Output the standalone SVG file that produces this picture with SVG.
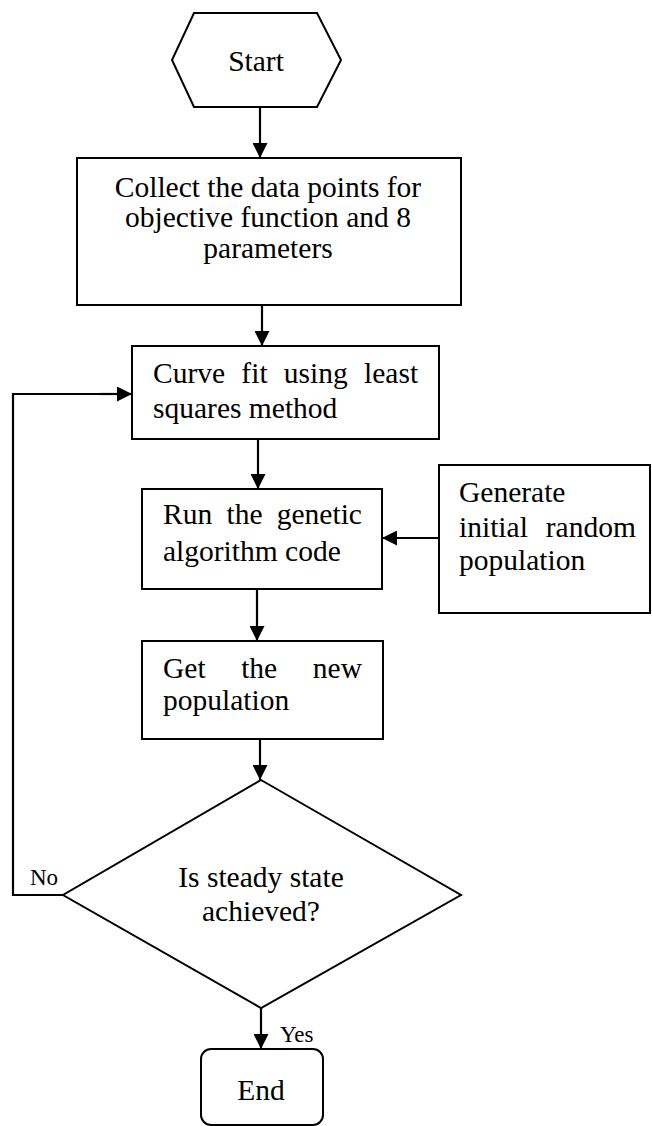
<svg xmlns="http://www.w3.org/2000/svg" width="652" height="1126" viewBox="0 0 652 1126">
  <defs>
    <marker id="ah" viewBox="0 0 15 15" refX="15" refY="7.5" markerWidth="15" markerHeight="15" markerUnits="userSpaceOnUse" orient="auto">
      <path d="M0,0 L15,7.5 L0,15 Z" fill="#000"/>
    </marker>
    <style>
      .shape { fill: #fff; stroke: #000; stroke-width: 2; }
      .conn { fill: none; stroke: #000; stroke-width: 2.2; marker-end: url(#ah); }
      .loop { fill: none; stroke: #000; stroke-width: 2.2; }
      text { font-family: "Liberation Serif", "Times New Roman", serif; font-size: 29.5px; fill: #000; }
      .c { text-anchor: middle; }
      .lbl { font-size: 23px; }
    </style>
  </defs>
  <rect width="652" height="1126" fill="#fff"/>

  <g id="connectors">
    <line class="conn" x1="260" y1="107" x2="260" y2="158"/>
    <line class="conn" x1="262" y1="305" x2="262" y2="346"/>
    <line class="conn" x1="258" y1="439" x2="258" y2="489"/>
    <line class="conn" x1="439" y1="538" x2="382" y2="538"/>
    <line class="conn" x1="257" y1="589" x2="257" y2="641"/>
    <line class="conn" x1="260" y1="739" x2="260" y2="780"/>
    <line class="conn" x1="261" y1="1008" x2="261" y2="1049"/>
    <polyline class="loop" points="63,895 13,895 13,394 118,394"/>
    <line class="conn" x1="100" y1="394" x2="132" y2="394"/>
    <text class="lbl" x="30" y="885">No</text>
    <text class="lbl" x="280" y="1042">Yes</text>
  </g>

  <g id="start">
    <polygon class="shape" points="194,13 317,13 341,60 317,107 194,107 172,60"/>
    <text class="c" x="256" y="71">Start</text>
  </g>

  <g id="collect">
    <rect class="shape" x="77" y="158" width="384" height="147"/>
    <text class="c" x="268" y="197">Collect the data points for</text>
    <text class="c" x="268" y="227">objective function and 8</text>
    <text class="c" x="268" y="258">parameters</text>
  </g>

  <g id="curvefit">
    <rect class="shape" x="132" y="346" width="307" height="93"/>
    <text x="153" y="383" word-spacing="8.9">Curve fit using least</text>
    <text x="153" y="418">squares method</text>
  </g>

  <g id="rungenetic">
    <rect class="shape" x="142" y="489" width="240" height="100"/>
    <text x="163" y="524" word-spacing="6.9">Run the genetic</text>
    <text x="163" y="561">algorithm code</text>
  </g>

  <g id="generate">
    <rect class="shape" x="439" y="465" width="211" height="148"/>
    <text x="459" y="502">Generate</text>
    <text x="459" y="537" word-spacing="10.6">initial random</text>
    <text x="459" y="570">population</text>
  </g>

  <g id="newpop">
    <rect class="shape" x="142" y="641" width="241" height="98"/>
    <text x="163" y="678" word-spacing="28.2">Get the new</text>
    <text x="163" y="710">population</text>
  </g>

  <g id="decision">
    <polygon class="shape" points="261,780 461,895 261,1008 63,895"/>
    <text class="c" x="261" y="887">Is steady state</text>
    <text class="c" x="261" y="921">achieved?</text>
  </g>

  <g id="end">
    <rect class="shape" x="201" y="1049" width="122" height="76" rx="10" ry="10"/>
    <text class="c" x="261" y="1100">End</text>
  </g>
</svg>
